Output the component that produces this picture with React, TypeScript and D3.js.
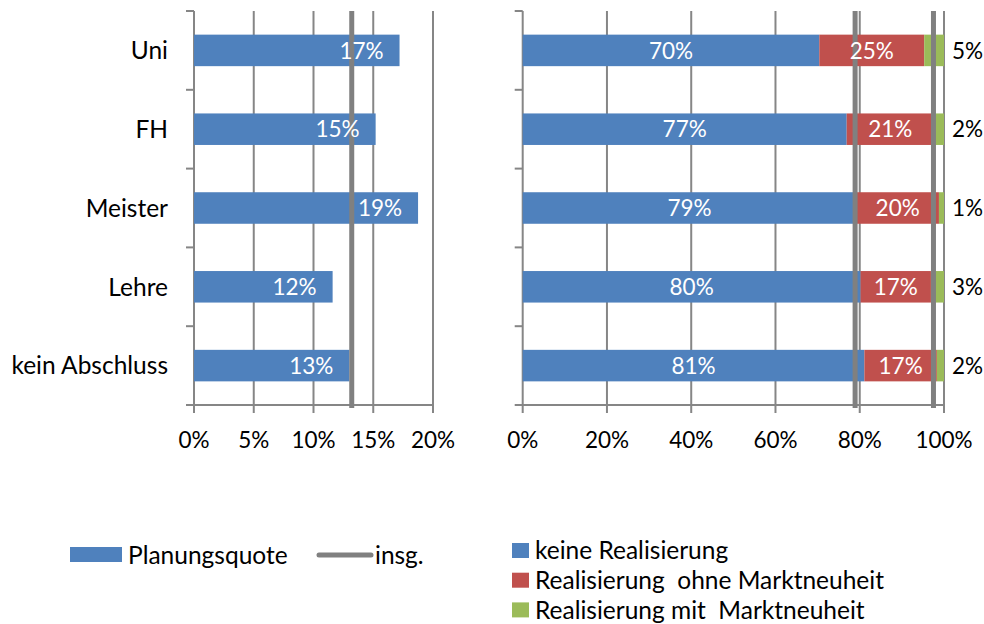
import React from "react";
import * as d3 from "d3";

const categories = ["Uni", "FH", "Meister", "Lehre", "kein Abschluss"];
const planungsquote = [0.172, 0.152, 0.1875, 0.116, 0.13];
const planungsLabels = ["17%", "15%", "19%", "12%", "13%"];
const insgLeft = 0.132;

const keineRealisierung = [0.704, 0.769, 0.792, 0.802, 0.811];
const ohneMarktneuheit = [0.249, 0.207, 0.196, 0.167, 0.172];
const mitMarktneuheit = [0.047, 0.024, 0.012, 0.031, 0.017];
const keineLabels = ["70%", "77%", "79%", "80%", "81%"];
const ohneLabels = ["25%", "21%", "20%", "17%", "17%"];
const mitLabels = ["5%", "2%", "1%", "3%", "2%"];
const insgRight = [0.789, 0.975];

const leftTicks = [0, 0.05, 0.1, 0.15, 0.2];
const rightTicks = [0, 0.2, 0.4, 0.6, 0.8, 1.0];

const seriesNames = [
  "keine Realisierung",
  "Realisierung  ohne Marktneuheit",
  "Realisierung mit  Marktneuheit",
];
const colors = ["#4f81bd", "#c0504d", "#9bbb59"];
const grid = "#868686";
const lineGray = "#808080";
const FONT = "Lato, 'Open Sans', sans-serif";

export default function App() {
  const top = 11;
  const bottom = 405;
  const y = d3
    .scaleBand<string>()
    .domain(categories)
    .range([top, bottom])
    .paddingInner(0.6)
    .paddingOuter(0.3);
  const xL = d3.scaleLinear().domain([0, 0.2]).range([194, 433]);
  const xR = d3.scaleLinear().domain([0, 1]).range([522.7, 944]);
  const fmt = d3.format(".0%");
  const step = y.step();
  const catBoundaries = d3.range(categories.length + 1).map((i) => top + i * step);

  const stacked = categories.map((c, i) => {
    const vals = [keineRealisierung[i], ohneMarktneuheit[i], mitMarktneuheit[i]];
    const labels = [keineLabels[i], ohneLabels[i], mitLabels[i]];
    let acc = 0;
    return vals.map((v, k) => {
      const seg = { x0: acc, x1: acc + v, label: labels[k], k };
      acc += v;
      return seg;
    });
  });

  const fs = 22.5; // numbers
  const ft = 24.5; // words

  return (
    <svg
      width={984}
      height={624}
      style={{ position: "absolute", left: 0, top: 0, background: "#fff" }}
      fontFamily={FONT}
    >
      {/* LEFT CHART */}
      <g>
        {leftTicks.map((t) => (
          <line key={"lg" + t} x1={xL(t)} x2={xL(t)} y1={top} y2={bottom + 8} stroke={grid} strokeWidth={2} />
        ))}
        {catBoundaries.map((yy, i) => (
          <line key={"lt" + i} x1={xL(0) - 8} x2={xL(0)} y1={yy} y2={yy} stroke={grid} strokeWidth={2} />
        ))}
        <line x1={xL(0)} x2={xL(0.2)} y1={bottom} y2={bottom} stroke={grid} strokeWidth={2} />
        {categories.map((c, i) => (
          <rect
            key={"lb" + c}
            x={xL(0)}
            y={y(c)!}
            width={xL(planungsquote[i]) - xL(0)}
            height={y.bandwidth()}
            fill={colors[0]}
          />
        ))}
        <line x1={xL(insgLeft)} x2={xL(insgLeft)} y1={top} y2={bottom + 3} stroke={lineGray} strokeWidth={5} />
        {categories.map((c, i) => (
          <text
            key={"ll" + c}
            x={xL(planungsquote[i]) - 16}
            y={y(c)! + y.bandwidth() / 2}
            dy="0.36em"
            textAnchor="end"
            fill="#fff"
            fontSize={fs}
          >
            {planungsLabels[i]}
          </text>
        ))}
        {categories.map((c) => (
          <text
            key={"lc" + c}
            x={168}
            y={y(c)! + y.bandwidth() / 2}
            dy="0.36em"
            textAnchor="end"
            fill="#000"
            fontSize={ft}
          >
            {c}
          </text>
        ))}
        {leftTicks.map((t) => (
          <text key={"ltl" + t} x={xL(t)} y={440} dy="0.36em" textAnchor="middle" fill="#000" fontSize={fs}>
            {fmt(t)}
          </text>
        ))}
      </g>

      {/* RIGHT CHART */}
      <g>
        {rightTicks.map((t) => (
          <line key={"rg" + t} x1={xR(t)} x2={xR(t)} y1={top} y2={bottom + 8} stroke={grid} strokeWidth={2} />
        ))}
        {catBoundaries.map((yy, i) => (
          <line key={"rt" + i} x1={xR(0) - 8} x2={xR(0)} y1={yy} y2={yy} stroke={grid} strokeWidth={2} />
        ))}
        <line x1={xR(0)} x2={xR(1)} y1={bottom} y2={bottom} stroke={grid} strokeWidth={2} />
        {categories.map((c, i) =>
          stacked[i].map((s) => (
            <rect
              key={"rb" + c + s.k}
              x={xR(s.x0)}
              y={y(c)!}
              width={xR(s.x1) - xR(s.x0)}
              height={y.bandwidth()}
              fill={colors[s.k]}
            />
          ))
        )}
        {insgRight.map((v, j) => (
          <line key={"ri" + j} x1={xR(v)} x2={xR(v)} y1={top} y2={bottom + 3} stroke={lineGray} strokeWidth={5} />
        ))}
        {categories.map((c, i) =>
          stacked[i].map((s) =>
            s.k < 2 ? (
              <text
                key={"rl" + c + s.k}
                x={(xR(s.x0) + xR(s.x1)) / 2}
                y={y(c)! + y.bandwidth() / 2}
                dy="0.36em"
                textAnchor="middle"
                fill="#fff"
                fontSize={fs}
              >
                {s.label}
              </text>
            ) : (
              <text
                key={"rl" + c + s.k}
                x={967.5}
                y={y(c)! + y.bandwidth() / 2}
                dy="0.36em"
                textAnchor="middle"
                fill="#000"
                fontSize={fs}
              >
                {s.label}
              </text>
            )
          )
        )}
        {rightTicks.map((t) => (
          <text key={"rtl" + t} x={xR(t)} y={440} dy="0.36em" textAnchor="middle" fill="#000" fontSize={fs}>
            {fmt(t)}
          </text>
        ))}
      </g>

      {/* LEGENDS */}
      <g>
        <rect x={70} y={547} width={52} height={15} fill={colors[0]} />
        <text x={128} y={555} dy="0.36em" fontSize={ft} fill="#000">
          Planungsquote
        </text>
        <line x1={319} x2={371} y1={555} y2={555} stroke={lineGray} strokeWidth={5} strokeLinecap="round" />
        <text x={375} y={555} dy="0.36em" fontSize={ft} fill="#000">
          insg.
        </text>
        {seriesNames.map((n, k) => (
          <g key={"lg" + k} transform={`translate(512, ${543 + k * 29.7})`}>
            <rect x={0} y={0} width={17} height={15} fill={colors[k]} />
            <text x={23} y={7.5} dy="0.36em" fontSize={ft} fill="#000" style={{ whiteSpace: "pre" }}>
              {n}
            </text>
          </g>
        ))}
      </g>
    </svg>
  );
}
